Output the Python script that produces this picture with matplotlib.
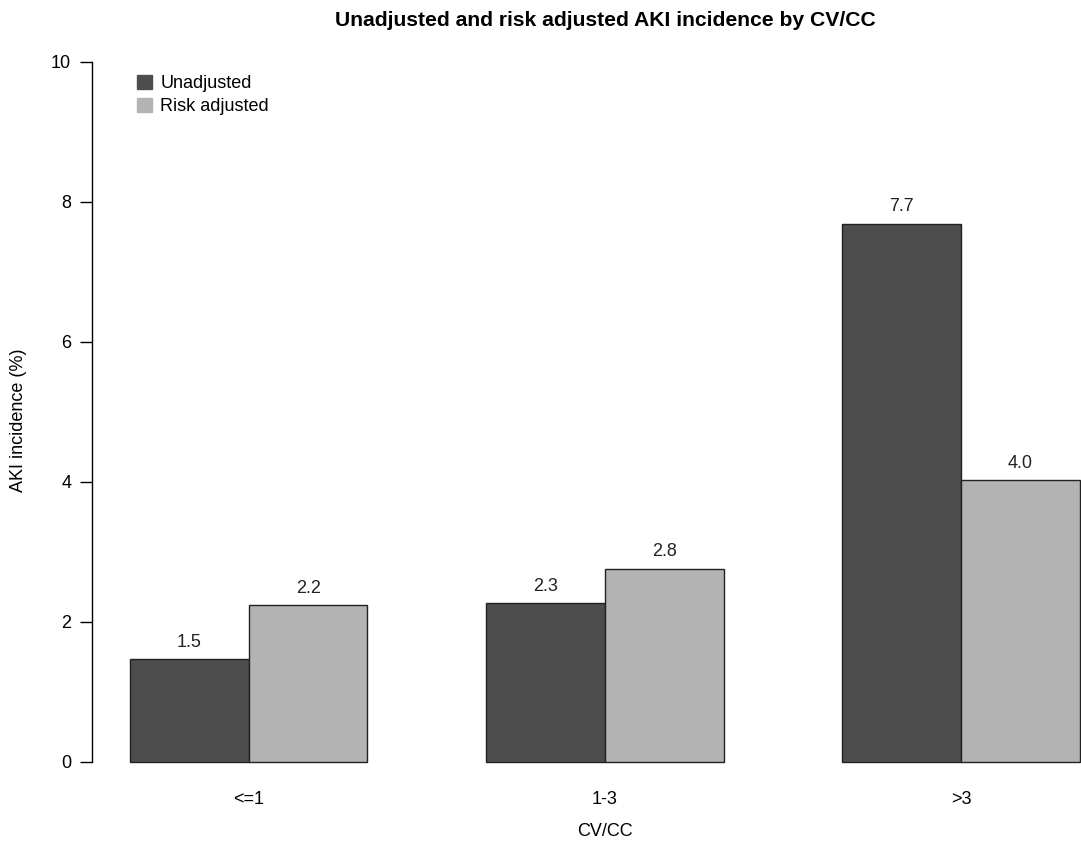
import matplotlib
matplotlib.use("Agg")
import matplotlib.pyplot as plt
from matplotlib.patches import Patch
import numpy as np

categories = ["<=1", "1-3", ">3"]
series_names = ["Unadjusted", "Risk adjusted"]
unadjusted = [1.47, 2.27, 7.69]
risk_adjusted = [2.24, 2.76, 4.03]
colors = ["#4D4D4D", "#B3B3B3"]
yticks = [0, 2, 4, 6, 8, 10]

plt.rcParams['font.family'] = ['Liberation Sans', 'DejaVu Sans']

W, H = 1081, 850
FS = 13
fig = plt.figure(figsize=(W / 100, H / 100), dpi=100)
# axes in pixels: left 92, right 1118, top 34, bottom 790
ax = fig.add_axes([92 / W, (H - 790) / H, (1118 - 92) / W, (790 - 34) / H])
ax.set_xlim(0.68, 9.32)
ax.set_ylim(-0.4, 10.4)

x_group = np.arange(len(categories)) * 3 + 1  # left edge of each group
series = [unadjusted, risk_adjusted]
for i, (vals, col) in enumerate(zip(series, colors)):
    xs = x_group + i
    ax.bar(xs, vals, width=1.0, align='edge', color=col, edgecolor='#222222', linewidth=1.0)
    for x, v in zip(xs, vals):
        ax.text(x + 0.5, v + 0.12, f"{v:.1f}", ha='center', va='bottom', fontsize=FS, color='#222222')

for s in ['top', 'right', 'bottom']:
    ax.spines[s].set_visible(False)
ax.spines['left'].set_bounds(0, 10)
ax.spines['left'].set_linewidth(1.0)
ax.set_yticks(yticks)
ax.set_yticklabels([str(t) for t in yticks], fontsize=FS)
ax.tick_params(axis='y', length=9, width=1.0, pad=6)
ax.set_xticks(x_group + 1)
ax.set_xticklabels(categories, fontsize=FS)
ax.tick_params(axis='x', length=0, pad=1)

fig.text(19 / W, 1 - 420 / H, "AKI incidence (%)", rotation=90, ha='center', va='center', fontsize=FS)
fig.text(605 / W, 1 - 832 / H, "CV/CC", ha='center', va='center', fontsize=FS)
fig.text(605 / W, 1 - 20 / H, "Unadjusted and risk adjusted AKI incidence by CV/CC",
         ha='center', va='center', fontsize=15.2, fontweight='bold')

handles = [Patch(facecolor=c, edgecolor=c) for c in colors]
fig.legend(handles, series_names, loc='upper left', bbox_to_anchor=(137 / W, 1 - 75 / H),
           frameon=False, fontsize=FS, handlelength=0.85, handleheight=0.85,
           handletextpad=0.45, labelspacing=0.28, borderpad=0, borderaxespad=0)

fig.savefig("out.png", dpi=100)
